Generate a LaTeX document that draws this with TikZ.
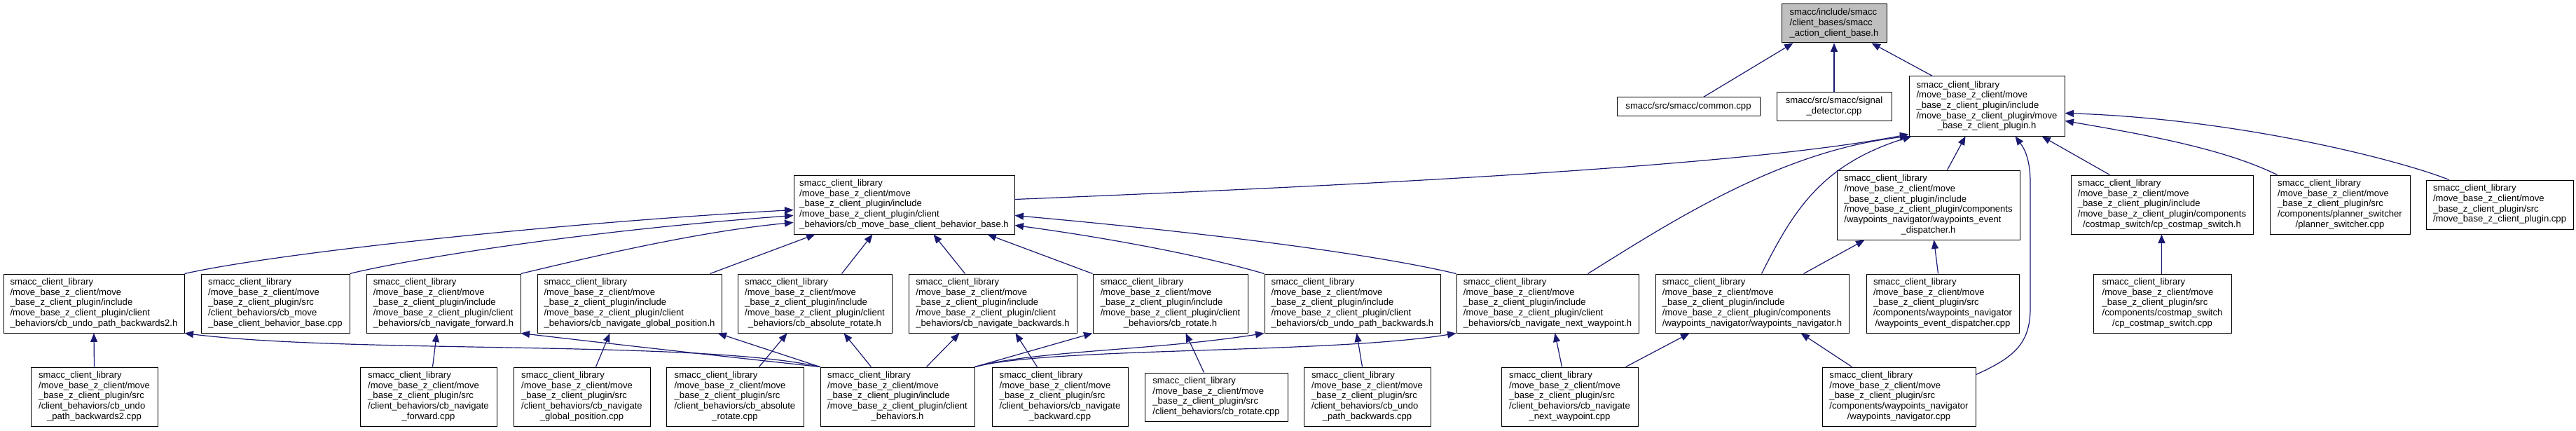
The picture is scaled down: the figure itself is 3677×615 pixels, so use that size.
\documentclass[tikz,border=0pt]{standalone}
\usepackage{fontspec}
\usetikzlibrary{arrows.meta}
\newfontfamily\dfontfam{Liberation Sans}
\newcommand\dfont{\dfontfam\fontsize{13.1pt}{14.7pt}\selectfont}
\definecolor{edgeblue}{HTML}{191970}
\definecolor{rootgray}{HTML}{BFBFBF}
\newcommand\Lc[1]{\multicolumn{1}{@{}c@{}}{#1}}
\newcommand\T[1]{\begin{tabular}{@{}l@{}}#1\end{tabular}}
\newcommand\PfxA{smacc\_client\_library\\/move\_base\_z\_client/move\\}
\newcommand\Inc{\PfxA\_base\_z\_client\_plugin/include\\}
\newcommand\Src{\PfxA\_base\_z\_client\_plugin/src\\}
\newcommand\IncCl{\Inc/move\_base\_z\_client\_plugin/client\\}
\newcommand\IncComp{\Inc/move\_base\_z\_client\_plugin/components\\}
\tikzset{
  box/.style={draw=black, line width=1pt, fill=white, inner sep=0pt, font=\dfont},
  rootbox/.style={box, fill=rootgray},
  edge/.style={draw=edgeblue, line width=1.2pt, -{Triangle[length=12.5pt,width=10pt]}},
}
\begin{document}
\begin{tikzpicture}[x=1pt,y=-1pt]
\useasboundingbox (0,0) rectangle (3677,615);
% row 1
\node[rootbox, minimum width=150pt, minimum height=55pt] (root) at (2618,33.5) {\T{smacc/include/smacc\\/client\_bases/smacc\\\Lc{\_action\_client\_base.h}}};
% row 2
\node[box, minimum width=204pt, minimum height=26pt] (common) at (2410,152) {smacc/src/smacc/common.cpp};
\node[box, minimum width=164pt, minimum height=40pt] (sigdet) at (2618,152) {\T{smacc/src/smacc/signal\\\Lc{\_detector.cpp}}};
\node[box, minimum width=222pt, minimum height=85pt] (plugh) at (2836,151.5) {\T{\Inc/move\_base\_z\_client\_plugin/move\\\Lc{\_base\_z\_client\_plugin.h}}};
% row 3
\node[box, minimum width=315pt, minimum height=84pt] (mbcbbh) at (1290.5,292) {\T{\IncCl\Lc{\_behaviors/cb\_move\_base\_client\_behavior\_base.h}}};
\node[box, minimum width=261pt, minimum height=99pt] (wpdisph) at (2752.5,292.5) {\T{\IncComp/waypoints\_navigator/waypoints\_event\\\Lc{\_dispatcher.h}}};
\node[box, minimum width=260pt, minimum height=84pt] (cpswh) at (3086,292) {\T{\IncComp\Lc{/costmap\_switch/cp\_costmap\_switch.h}}};
\node[box, minimum width=200pt, minimum height=84pt] (plannercpp) at (3340,292) {\T{\Src/components/planner\_switcher\\\Lc{/planner\_switcher.cpp}}};
\node[box, minimum width=210pt, minimum height=70pt] (plugcpp) at (3568,292) {\T{\Src\Lc{/move\_base\_z\_client\_plugin.cpp}}};
% row 4
\node[box, minimum width=258pt, minimum height=84pt] (undo2h) at (134,433) {\T{\IncCl\Lc{\_behaviors/cb\_undo\_path\_backwards2.h}}};
\node[box, minimum width=212pt, minimum height=84pt] (mbcbbcpp) at (393,433) {\T{\Src/client\_behaviors/cb\_move\\\Lc{\_base\_client\_behavior\_base.cpp}}};
\node[box, minimum width=220pt, minimum height=84pt] (navfwdh) at (633,433) {\T{\IncCl\Lc{\_behaviors/cb\_navigate\_forward.h}}};
\node[box, minimum width=263pt, minimum height=84pt] (navglobh) at (898.5,433) {\T{\IncCl\Lc{\_behaviors/cb\_navigate\_global\_position.h}}};
\node[box, minimum width=220pt, minimum height=84pt] (absroth) at (1163,433) {\T{\IncCl\Lc{\_behaviors/cb\_absolute\_rotate.h}}};
\node[box, minimum width=240pt, minimum height=84pt] (navbackh) at (1417,433) {\T{\IncCl\Lc{\_behaviors/cb\_navigate\_backwards.h}}};
\node[box, minimum width=221pt, minimum height=84pt] (rotateh) at (1670.5,433) {\T{\IncCl\Lc{\_behaviors/cb\_rotate.h}}};
\node[box, minimum width=251pt, minimum height=84pt] (undoh) at (1930.5,433) {\T{\IncCl\Lc{\_behaviors/cb\_undo\_path\_backwards.h}}};
\node[box, minimum width=260pt, minimum height=84pt] (nextwph) at (2209,433) {\T{\IncCl\Lc{\_behaviors/cb\_navigate\_next\_waypoint.h}}};
\node[box, minimum width=276pt, minimum height=84pt] (wpnavh) at (2501,433) {\T{\IncComp\Lc{/waypoints\_navigator/waypoints\_navigator.h}}};
\node[box, minimum width=218pt, minimum height=84pt] (wpdispcpp) at (2773,433) {\T{\Src/components/waypoints\_navigator\\\Lc{/waypoints\_event\_dispatcher.cpp}}};
\node[box, minimum width=197pt, minimum height=84pt] (cpswcpp) at (3086.5,433) {\T{\Src/components/costmap\_switch\\\Lc{/cp\_costmap\_switch.cpp}}};
% row 5
\node[box, minimum width=181pt, minimum height=84pt] (undo2cpp) at (134.5,566) {\T{\Src/client\_behaviors/cb\_undo\\\Lc{\_path\_backwards2.cpp}}};
\node[box, minimum width=195pt, minimum height=84pt] (navfwdcpp) at (611.5,566) {\T{\Src/client\_behaviors/cb\_navigate\\\Lc{\_forward.cpp}}};
\node[box, minimum width=195pt, minimum height=84pt] (navglobcpp) at (830.5,566) {\T{\Src/client\_behaviors/cb\_navigate\\\Lc{\_global\_position.cpp}}};
\node[box, minimum width=196pt, minimum height=84pt] (absrotcpp) at (1049,566) {\T{\Src/client\_behaviors/cb\_absolute\\\Lc{\_rotate.cpp}}};
\node[box, minimum width=220pt, minimum height=84pt] (cbh) at (1281,566) {\T{\IncCl\Lc{\_behaviors.h}}};
\node[box, minimum width=194pt, minimum height=84pt] (navbackcpp) at (1513,566) {\T{\Src/client\_behaviors/cb\_navigate\\\Lc{\_backward.cpp}}};
\node[box, minimum width=204pt, minimum height=69pt] (rotatecpp) at (1736,566.5) {\T{\Src\Lc{/client\_behaviors/cb\_rotate.cpp}}};
\node[box, minimum width=181pt, minimum height=84pt] (undocpp) at (1951.5,566) {\T{\Src/client\_behaviors/cb\_undo\\\Lc{\_path\_backwards.cpp}}};
\node[box, minimum width=195pt, minimum height=84pt] (nextwpcpp) at (2240.5,566) {\T{\Src/client\_behaviors/cb\_navigate\\\Lc{\_next\_waypoint.cpp}}};
\node[box, minimum width=219pt, minimum height=84pt] (wpnavcpp) at (2710.5,566) {\T{\Src/components/waypoints\_navigator\\\Lc{/waypoints\_navigator.cpp}}};
% edges to root
\draw[edge] ([xshift=124pt]common.north west) -- ([xshift=17pt]root.south west);
\draw[edge] (sigdet.north) -- (root.south);
\draw[edge] ([xshift=34pt]plugh.north west) -- ([xshift=129pt]root.south west);
% edges to plugin.h
\draw[edge] ([yshift=-35pt]mbcbbh.north east) .. controls (2000,262) and (2500,235) .. ([yshift=3pt]plugh.south west);
\draw[edge] ([xshift=188pt]nextwph.north west) .. controls (2380,320) and (2540,215) .. (plugh.south west);
\draw[edge] ([xshift=152pt]wpnavh.north west) .. controls (2560,300) and (2600,235) .. ([xshift=4pt]plugh.south west);
\draw[edge] ([xshift=158pt]wpdisph.north west) -- ([xshift=81pt]plugh.south west);
\draw[edge] ([yshift=-11pt]wpnavcpp.north east) .. controls (2875,510) and (2898,490) .. (2898,440) -- (2898,260) .. controls (2898,225) and (2888,210) .. ([xshift=152pt]plugh.south west);
\draw[edge] ([xshift=56pt]cpswh.north west) -- ([xshift=190pt]plugh.south west);
\draw[edge] ([xshift=11pt]plannercpp.north west) .. controls (3180,215) and (3080,195) .. ([yshift=-64pt]plugh.north east);
\draw[edge] ([xshift=33pt]plugcpp.north west) .. controls (3430,230) and (3200,170) .. ([yshift=-53pt]plugh.north east);
% edges to cb_move_base_client_behavior_base.h
\draw[edge] (undo2h.north east) .. controls (400,360) and (800,318) .. ([yshift=-50pt]mbcbbh.north west);
\draw[edge] (mbcbbcpp.north east) .. controls (560,375) and (800,332) .. ([yshift=-58pt]mbcbbh.north west);
\draw[edge] (navfwdh.north east) .. controls (850,365) and (1000,330) .. ([yshift=-68pt]mbcbbh.north west);
\draw[edge] ([xshift=247pt]navglobh.north west) -- ([xshift=31pt]mbcbbh.south west);
\draw[edge] ([xshift=149pt]absroth.north west) -- ([xshift=113pt]mbcbbh.south west);
\draw[edge] ([xshift=81pt]navbackh.north west) -- ([xshift=200pt]mbcbbh.south west);
\draw[edge] (rotateh.north west) -- ([xshift=277pt]mbcbbh.south west);
\draw[edge] (undoh.north west) .. controls (1700,360) and (1550,335) .. ([yshift=-72pt]mbcbbh.north east);
\draw[edge] (nextwph.north west) .. controls (1950,360) and (1700,330) .. ([yshift=-58pt]mbcbbh.north east);
% edges from client_behaviors.h
\draw[edge] (cbh.north west) .. controls (1000,485) and (500,505) .. (undo2h.south east);
\draw[edge] (cbh.north west) .. controls (1000,505) and (850,488) .. (navfwdh.south east);
\draw[edge] (cbh.north west) -- ([xshift=258pt]navglobh.south west);
\draw[edge] ([xshift=73pt]cbh.north west) -- ([xshift=152pt]absroth.south west);
\draw[edge] ([xshift=152pt]cbh.north west) -- ([xshift=73pt]navbackh.south west);
\draw[edge] (cbh.north east) -- (rotateh.south west);
\draw[edge] (cbh.north east) .. controls (1480,500) and (1650,500) .. (undoh.south west);
\draw[edge] (cbh.north east) .. controls (1500,495) and (1900,505) .. (nextwph.south west);
% bottom row edges
\draw[edge] (undo2cpp.north) -- (undo2h.south);
\draw[edge] ([xshift=104pt]navfwdcpp.north west) -- ([xshift=101pt]navfwdh.south west);
\draw[edge] ([xshift=118pt]navglobcpp.north west) -- ([xshift=104pt]navglobh.south west);
\draw[edge] ([xshift=133pt]absrotcpp.north west) -- ([xshift=71pt]absroth.south west);
\draw[edge] ([xshift=65pt]navbackcpp.north west) -- ([xshift=153pt]navbackh.south west);
\draw[edge] ([xshift=85pt]rotatecpp.north west) -- ([xshift=133pt]rotateh.south west);
\draw[edge] ([xshift=84pt]undocpp.north west) -- ([xshift=132pt]undoh.south west);
\draw[edge] ([xshift=87pt]nextwpcpp.north west) -- ([xshift=141pt]nextwph.south west);
\draw[edge] ([xshift=178pt]nextwpcpp.north west) -- ([xshift=49pt]wpnavh.south west);
\draw[edge] ([xshift=43pt]wpnavcpp.north west) -- ([xshift=208pt]wpnavh.south west);
\draw[edge] ([xshift=212pt]wpnavh.north west) -- ([xshift=40pt]wpdisph.south west);
\draw[edge] ([xshift=103pt]wpdispcpp.north west) -- ([xshift=139pt]wpdisph.south west);
\draw[edge] ([xshift=98pt]cpswcpp.north west) -- ([xshift=130pt]cpswh.south west);
\end{tikzpicture}
\end{document}
